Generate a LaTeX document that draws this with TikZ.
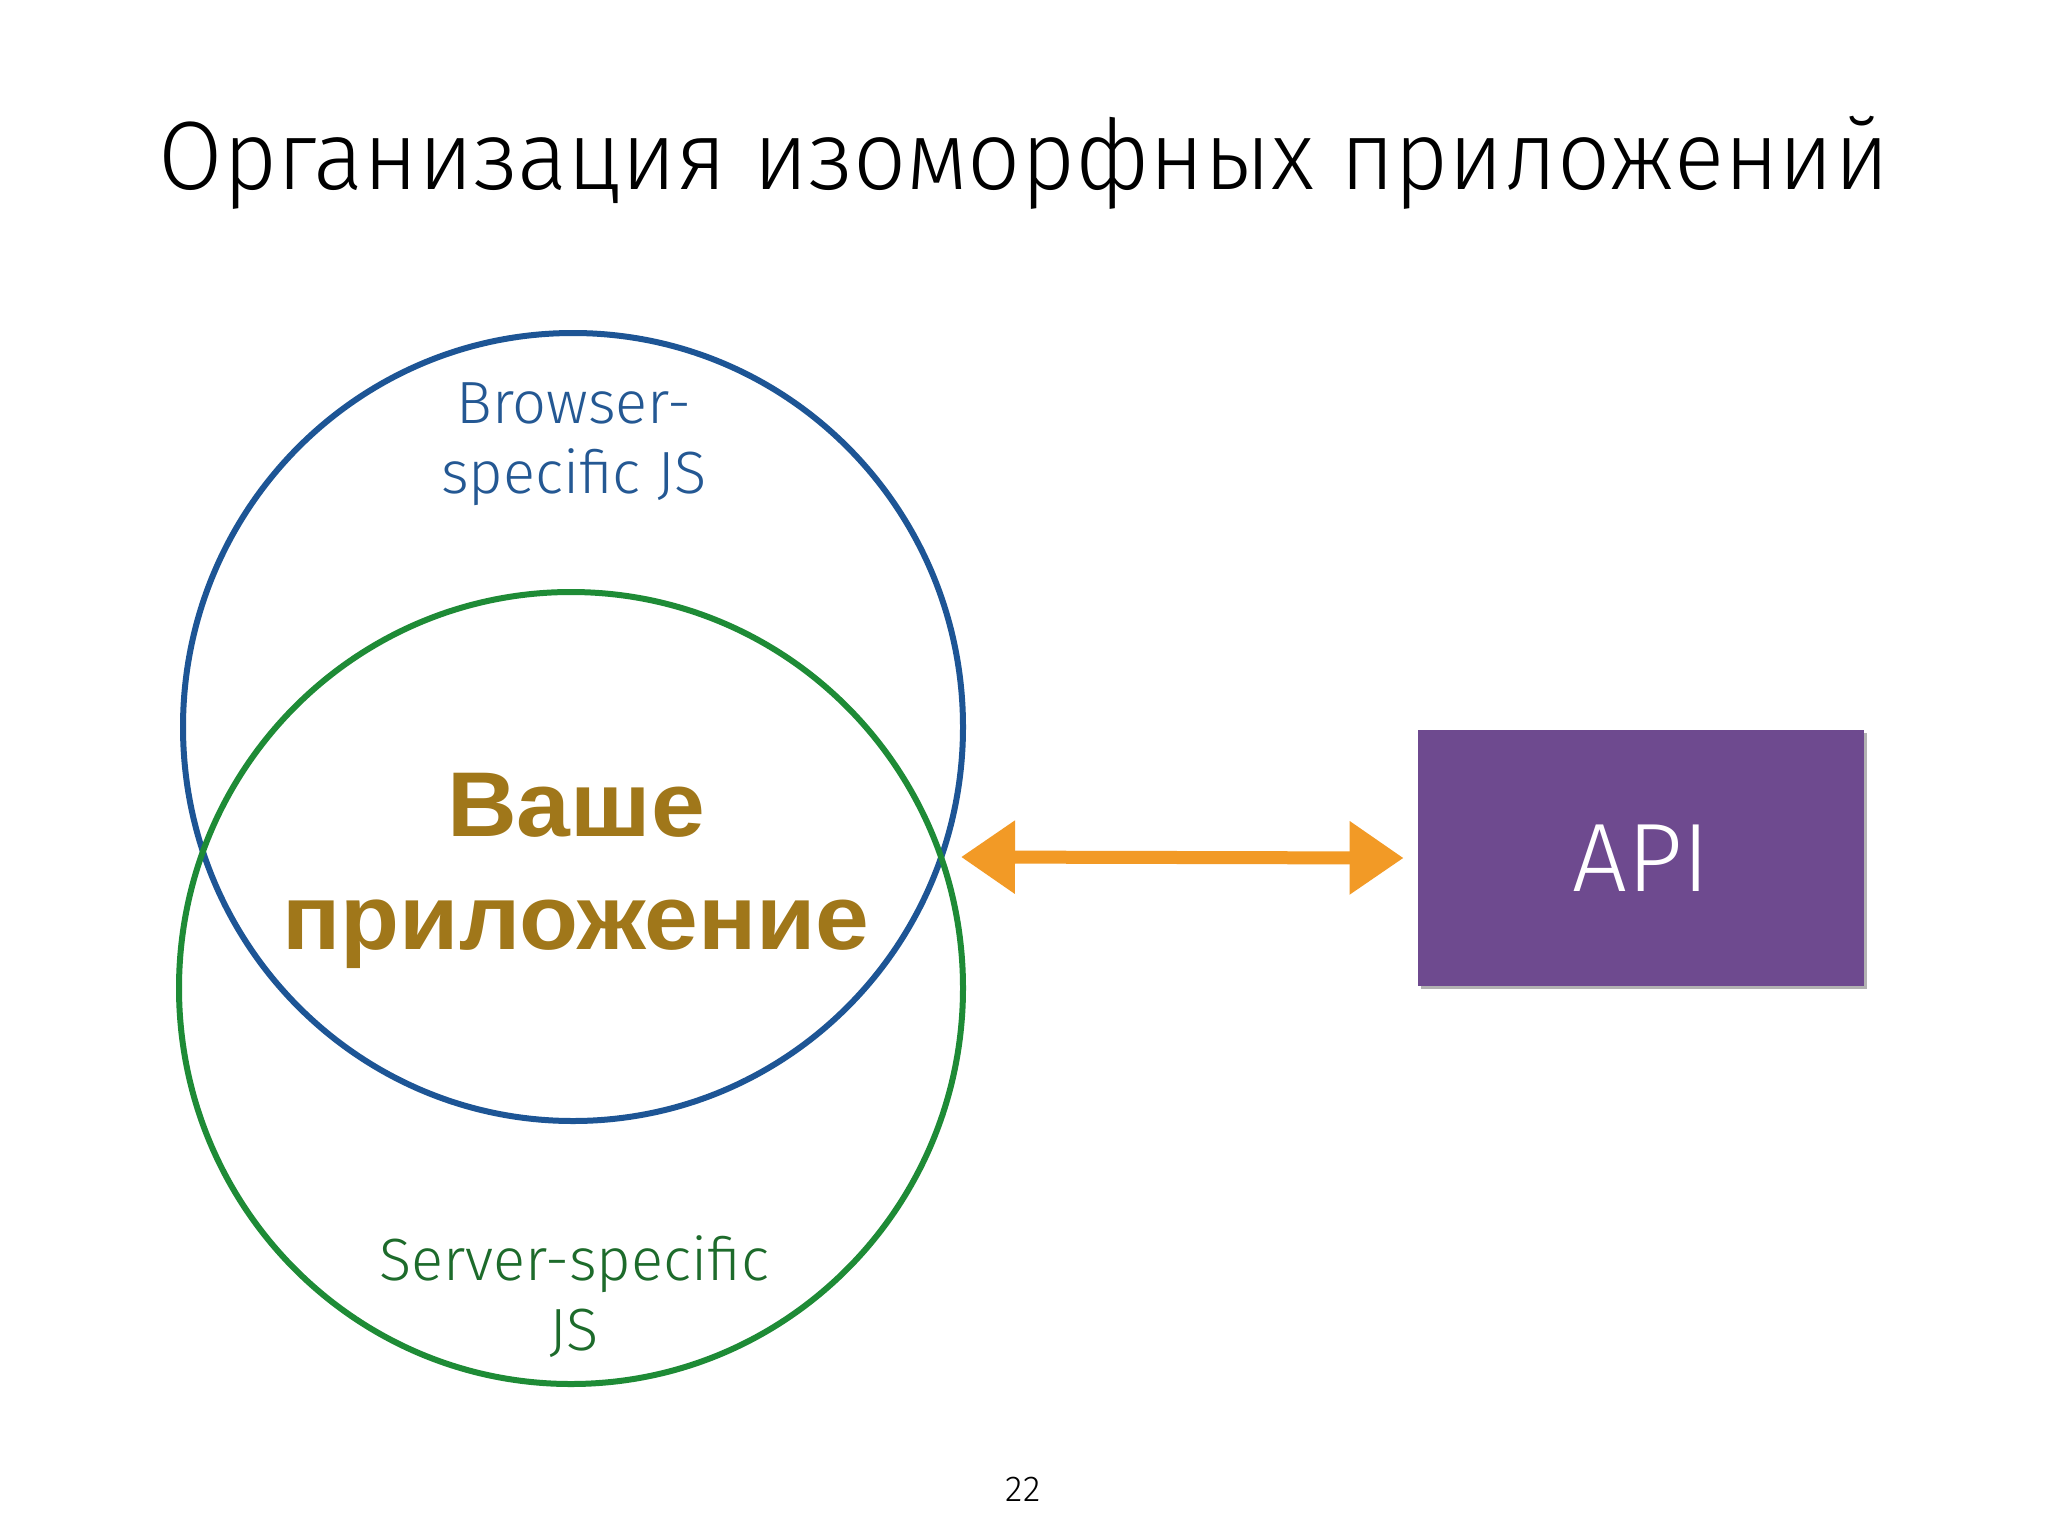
\documentclass[tikz,border=0pt]{standalone}
\usepackage{fontspec}
\setmainfont{Fira Sans Light}
\newfontfamily\arialfont{Liberation Sans}
\usetikzlibrary{arrows.meta,shapes.geometric,shadows}
\definecolor{bluec}{HTML}{1D5595}
\definecolor{bluet}{HTML}{245893}
\definecolor{greenc}{HTML}{1E8B36}
\definecolor{greent}{HTML}{1D6B2B}
\definecolor{goldt}{HTML}{A0771A}
\definecolor{purplebox}{HTML}{6E4A8F}
\definecolor{orangea}{HTML}{F29A26}
\tikzset{
  ring/.style={draw, ellipse, line width=3pt, inner sep=0pt, outer sep=0pt},
  lbl/.style={align=center, inner sep=0pt, font=\fontsize{29.8pt}{35pt}\selectfont},
  apptext/.style={align=center, inner sep=0pt, text=goldt, xscale=1.05, transform shape,
    font=\arialfont\bfseries\fontsize{46pt}{56.5pt}\selectfont},
  apibox/.style={fill=purplebox, minimum width=223pt, minimum height=128pt, inner sep=0pt,
    text=white, font=\fontsize{48.6pt}{50pt}\selectfont,
    drop shadow={shadow xshift=1.5pt, shadow yshift=-1.5pt, opacity=0.3, fill=black}},
  biarrow/.style={draw=orangea, line width=6.5pt,
    {Triangle[length=27pt,width=35pt]}-{Triangle[length=27pt,width=35pt]}}
}
\begin{document}
\begin{tikzpicture}[x=0.5pt,y=-0.5pt]
\useasboundingbox[fill=white] (0,0) rectangle (2048,1536);
\node[anchor=base, inner sep=0pt, font=\fontsize{48.6pt}{50pt}\selectfont] (title) at (1024,189) {\scalebox{0.96}[1]{Организация изоморфных приложений}};
\node[ring, draw=bluec, minimum width=390pt, minimum height=394pt] (browser) at (573,727) {};
\node[ring, draw=greenc, minimum width=392pt, minimum height=396pt] (server) at (571,988) {};
\node[lbl, text=bluet, anchor=base] (blbl) at (574,493) {Browser-\\specific JS};
\node[lbl, text=greent, anchor=base] (slbl) at (574,1350) {Server-specific\\JS};
\node[apptext, anchor=base] (app) at (576,949) {Ваше\\приложение};
\node[apibox] (api) at (1641,858) {API};
\coordinate (aL) at (961,857);
\draw[biarrow] (aL) -- ([xshift=-7pt]api.west);
\node[anchor=base, inner sep=0pt, font=\fontsize{18pt}{20pt}\selectfont] (page) at (1023,1501) {22};
\end{tikzpicture}
\end{document}
